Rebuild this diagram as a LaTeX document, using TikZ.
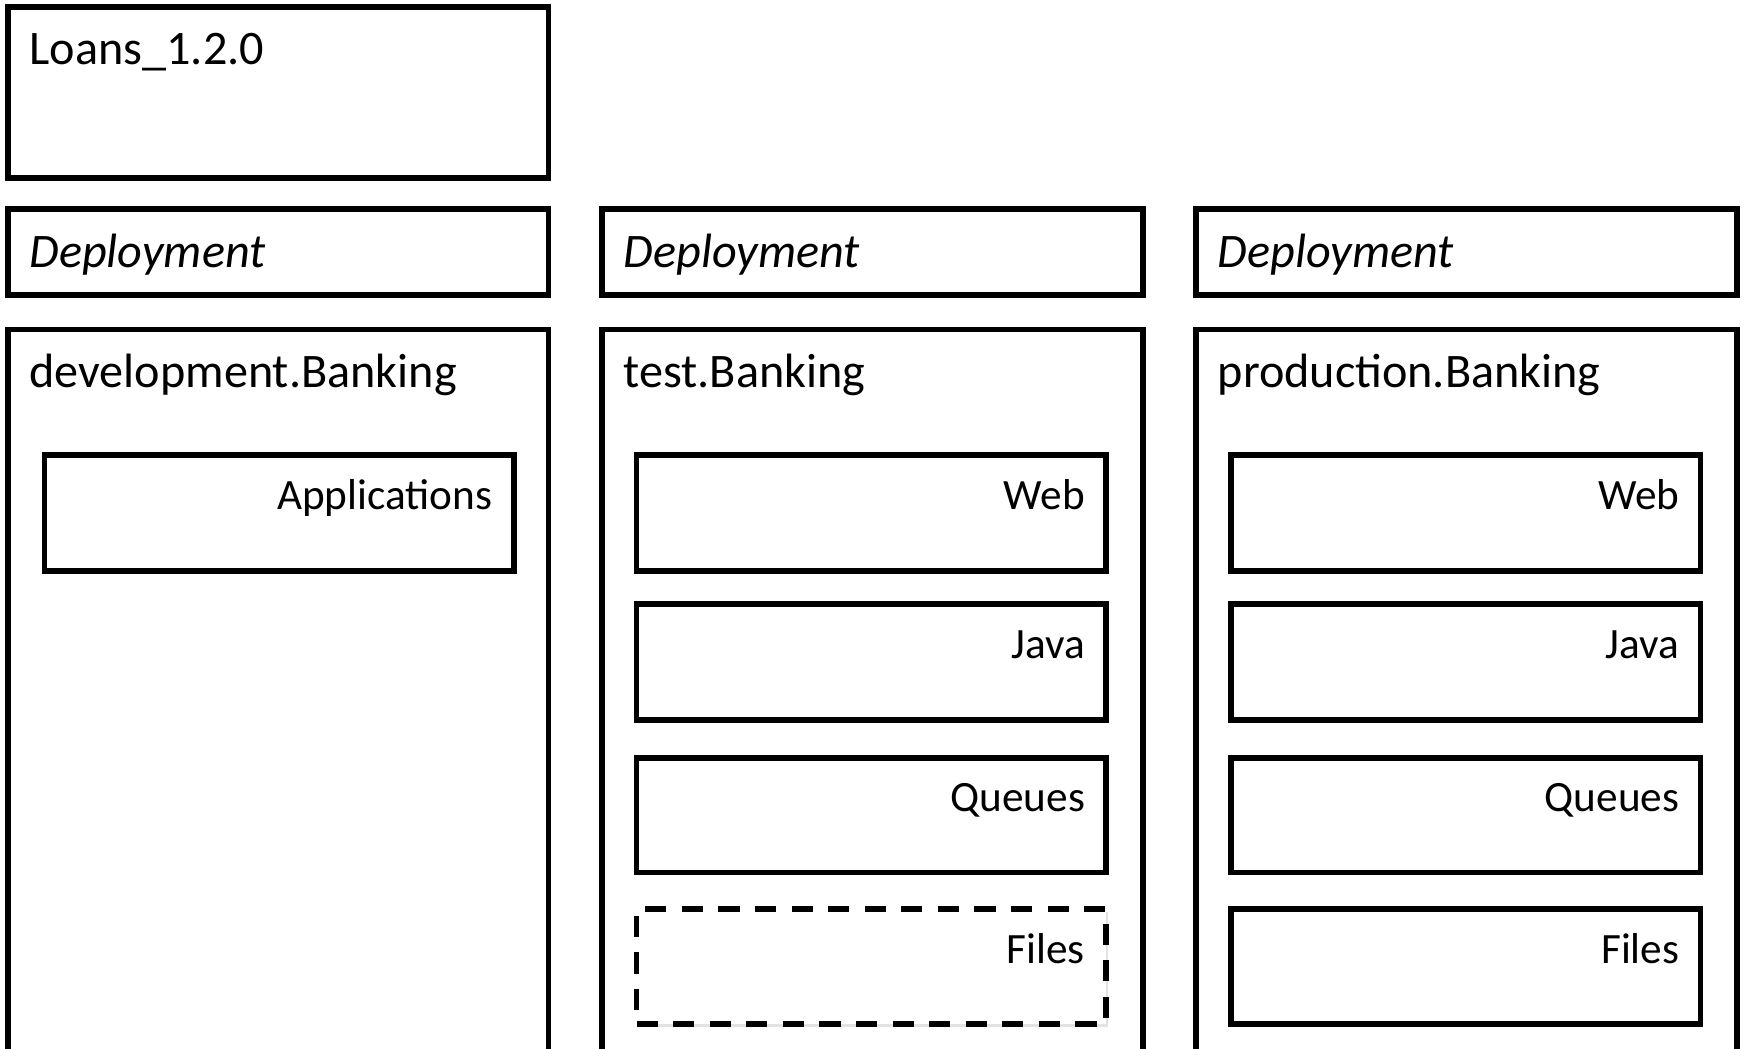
\documentclass[tikz,border=0pt]{standalone}
\usepackage{fontspec}
\setmainfont{Carlito}
\usetikzlibrary{shadows,fit}
\begin{document}
\begin{tikzpicture}[x=0.01cm,y=-0.01cm,
  box/.style={draw, line width=1.6pt, fill=white, inner sep=0pt,
    drop shadow={opacity=0.22, shadow xshift=0.6pt, shadow yshift=-0.8pt}},
  dashbox/.style={box, dash pattern=on 6pt off 4.4pt},
  title/.style={inner sep=0pt, anchor=base west, font=\fontsize{13.7}{16}\selectfont},
  tag/.style={inner sep=0pt, anchor=base east, font=\fontsize{12.3}{15}\selectfont}
]
\useasboundingbox (0,0) rectangle (1745,1048);

% release box
\node (loans) [box, fit={(7.8,6.7) (548.6,178)}] {};
\node (loansT) [title] at (29,64.5) {Loans\_1.2.0};

% one column per environment
\foreach \x/\env/\n in {7.8/development.Banking/dev, 602/test.Banking/test, 1196/production.Banking/prod}{
  \node (dep-\n) [box, fit={(\x,209) (\x+540.8,295)}] {};
  \node (depT-\n) [title] at (\x+21,267) {\itshape Deployment};
  \node (env-\n) [box, fit={(\x,329.4) (\x+540.8,1070)}] {};
  \node (envT-\n) [title] at (\x+21,387) {\env};
}

% development
\node (apps) [box, fit={(44.5,455) (514,571)}] {};
\node (appsT) [tag] at (493,509) {Applications};

% test and production stacks
\foreach \x/\n in {636.6/test, 1231/prod}{
  \node (web-\n) [box, fit={(\x,455) (\x+469.5,571)}] {};
  \node (webT-\n) [tag] at (\x+449,509) {Web};
  \node (java-\n) [box, fit={(\x,604) (\x+469.5,720)}] {};
  \node (javaT-\n) [tag] at (\x+449,658) {Java};
  \node (queue-\n) [box, fit={(\x,758) (\x+469.5,872.5)}] {};
  \node (queueT-\n) [tag] at (\x+449,811) {Queues};
}
\node (files-test) [dashbox, fit={(636.6,909) (1106,1024)}] {};
\node (filesT-test) [tag] at (1085.6,963) {Files};
\node (files-prod) [box, fit={(1231,909) (1700.5,1024)}] {};
\node (filesT-prod) [tag] at (1680,963) {Files};
\end{tikzpicture}
\end{document}
